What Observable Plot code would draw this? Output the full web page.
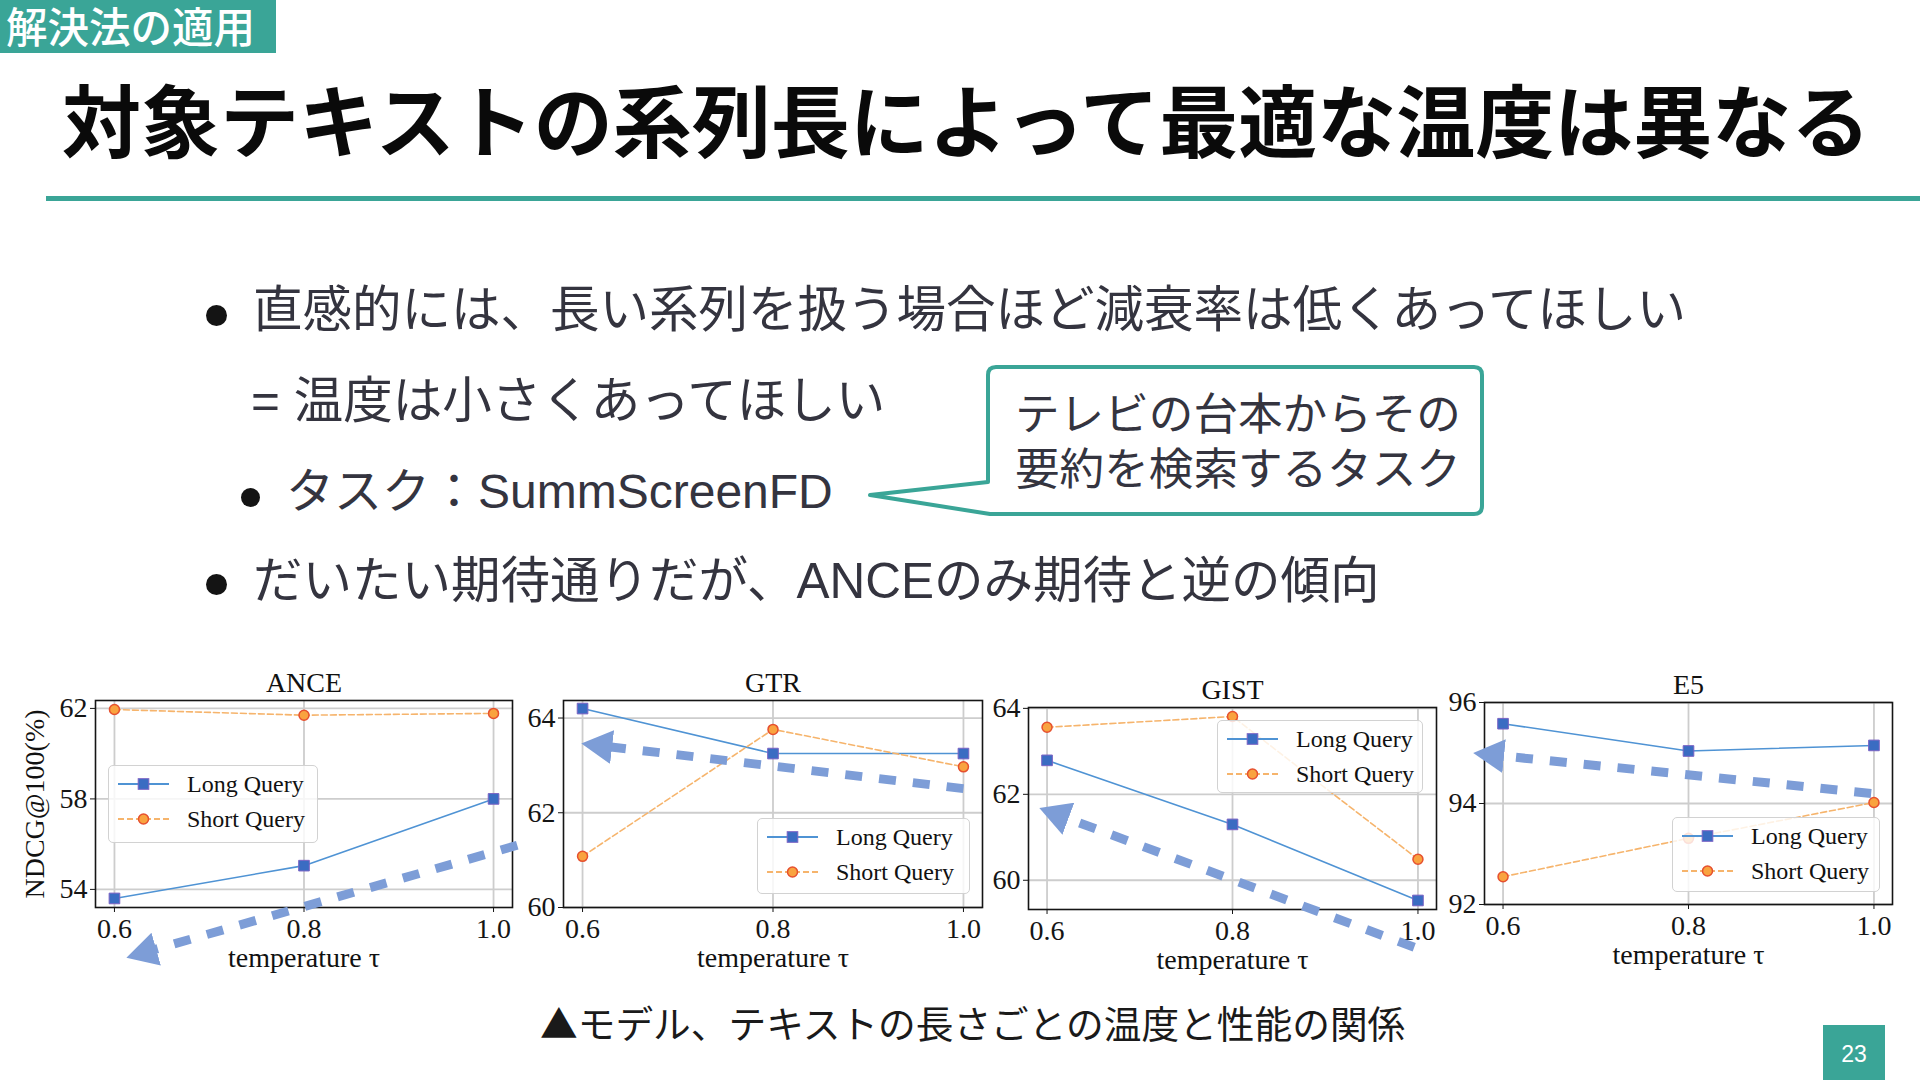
<!DOCTYPE html>
<html>
<head>
<meta charset="utf-8">
<script src="https://cdn.jsdelivr.net/npm/d3@7"></script>
<script src="https://cdn.jsdelivr.net/npm/@observablehq/plot@0.6"></script>
<style>
html,body{margin:0;padding:0;background:#fff;}
#slide{position:relative;width:1920px;height:1080px;overflow:hidden;background:#fff;font-family:"Noto Sans CJK JP",sans-serif;}
.t{position:absolute;white-space:nowrap;line-height:1;}
.body{font-family:"Liberation Sans","Noto Sans CJK JP",sans-serif;color:#34343f;font-size:49.5px;}
.dot{position:absolute;border-radius:50%;background:#141414;}
.leg{position:absolute;background:rgba(255,255,255,0.82);border:1.5px solid #d2d2d2;border-radius:5px;box-sizing:border-box;font-family:"Liberation Serif",serif;font-size:24px;color:#111;}
.leg svg{position:absolute;}
.leg span{position:absolute;white-space:nowrap;line-height:1;}
.panel{position:absolute;}
</style>
</head>
<body>
<div id="slide">
  <div style="position:absolute;left:0;top:0;width:276px;height:53px;background:#3aa597;"></div>
  <div class="t" style="left:6px;top:5px;font-size:41.5px;color:#fff;font-weight:500;">解決法の適用</div>
  <div class="t" style="left:62px;top:78px;font-size:79px;font-weight:700;color:#0a0a0a;">対象テキストの系列長によって最適な温度は異なる</div>
  <div style="position:absolute;left:46px;top:196px;width:1874px;height:5px;background:#3aa597;"></div>

  <div class="dot" style="left:206px;top:305px;width:21px;height:21px;"></div>
  <div class="t body" style="left:253px;top:285px;">直感的には、長い系列を扱う場合ほど減衰率は低くあってほしい</div>
  <div class="t body" style="left:251px;top:376px;">= 温度は小さくあってほしい</div>
  <div class="dot" style="left:241px;top:488px;width:19px;height:19px;"></div>
  <div class="t body" style="left:286px;top:468px;font-size:48px;">タスク：SummScreenFD</div>
  <div class="dot" style="left:206px;top:574px;width:21px;height:21px;"></div>
  <div class="t body" style="left:253px;top:556px;">だいたい期待通りだが、ANCEのみ期待と逆の傾向</div>

  <svg style="position:absolute;left:0;top:0;" width="1920" height="1080">
    <path d="M996,367 H1474 Q1482,367 1482,375 V506 Q1482,514 1474,514 H990 L870,495 L988,482 V375 Q988,367 996,367 Z" fill="#fff" stroke="#3aa597" stroke-width="4" stroke-linejoin="round"/>
  </svg>
  <div class="t body" style="left:1015px;top:393px;font-size:44.6px;">テレビの台本からその</div>
  <div class="t body" style="left:1015px;top:448px;font-size:44.6px;">要約を検索するタスク</div>

  <div class="t" style="left:540px;top:1003px;font-size:37.7px;color:#1a1a1a;">▲モデル、テキストの長さごとの温度と性能の関係</div>
  <div style="position:absolute;left:1823px;top:1025px;width:62px;height:55px;background:#3aa597;"></div>
  <div class="t" style="left:1823px;top:1043px;width:62px;text-align:center;font-family:'Liberation Sans',sans-serif;font-size:23px;color:#fff;">23</div>
</div>
<script>
// ---- data ----
const temps = [0.6, 0.8, 1.0];
const tempLabels = ["0.6", "0.8", "1.0"];
const seriesNames = ["Long Query", "Short Query"];
const modelNames = ["ANCE", "GTR", "GIST", "E5"];
const xLabel = "temperature τ";
const yLabel = "NDCG@100(%)";

const anceLong  = [53.6, 55.05, 58.0];
const anceShort = [61.95, 61.7, 61.78];
const gtrLong   = [64.2, 63.25, 63.25];
const gtrShort  = [61.08, 63.76, 62.97];
const gistLong  = [62.79, 61.3, 59.53];
const gistShort = [63.56, 63.81, 60.49];
const e5Long    = [95.58, 95.04, 95.15];
const e5Short   = [92.55, 93.31, 94.02];

const anceTicks = [54, 58, 62];
const gtrTicks  = [60, 62, 64];
const gistTicks = [60, 62, 64];
const e5Ticks   = [92, 94, 96];

const anceDomain = [53.2, 62.35];
const gtrDomain  = [60, 64.37];
const gistDomain = [59.32, 64.02];
const e5Domain   = [92, 96];

// trend arrows (annotation), in data units: [x1, y1, x2, y2] (x2,y2 = base of arrow head)
const anceArrow = [1.025, 55.95, 0.643, 51.35];
const gtrArrow  = [1.0, 62.51, 0.630, 63.39];
const gistArrow = [0.996, 58.44, 0.622, 61.44];
const e5Arrow   = [0.997, 94.2, 0.6, 94.94];

// ---- styles / layout ----
const longColor = "#4f93d4", sqFill = "#3a6cc2", sqStroke = "#7a62c4";
const shortColor = "#f6b46c", ciFill = "#f9a33f", ciStroke = "#e6502f";
const arrowColor = "#7d9dd7";
const gridColor = "#cdcdcd";

const panels = [
  {name: modelNames[0], long: anceLong, short: anceShort, ticks: anceTicks, domain: anceDomain, arrow: anceArrow, ylabel: true,
   frame: {L: 95, R: 512, T: 700, B: 907}, mL: 95, legend: [108, 765, 210, 78]},
  {name: modelNames[1], long: gtrLong, short: gtrShort, ticks: gtrTicks, domain: gtrDomain, arrow: gtrArrow,
   frame: {L: 563, R: 982, T: 700, B: 907}, mL: 70, legend: [757, 818, 213, 76]},
  {name: modelNames[2], long: gistLong, short: gistShort, ticks: gistTicks, domain: gistDomain, arrow: gistArrow,
   frame: {L: 1028, R: 1436, T: 707, B: 909}, mL: 70, legend: [1217, 720, 206, 73]},
  {name: modelNames[3], long: e5Long, short: e5Short, ticks: e5Ticks, domain: e5Domain, arrow: e5Arrow,
   frame: {L: 1484, R: 1892, T: 702, B: 904}, mL: 70, legend: [1672, 817, 208, 75]}
];

const slide = document.getElementById("slide");
const SVG_TOP = 645, SVG_BOTTOM = 995;

panels.forEach((p, i) => {
  const rows = temps.map((t, k) => ({t, long: p.long[k], short: p.short[k]}));
  const mR = 25;
  const mT = p.frame.T - SVG_TOP, mB = SVG_BOTTOM - p.frame.B;
  const W = p.mL + (p.frame.R - p.frame.L) + mR;
  const H = SVG_BOTTOM - SVG_TOP;
  const a = p.arrow;
  const marks = [
    Plot.gridX(temps, {stroke: gridColor, strokeOpacity: 1, strokeWidth: 1.8}),
    Plot.gridY(p.ticks, {stroke: gridColor, strokeOpacity: 1, strokeWidth: 1.8}),
    Plot.frame({stroke: "#151515", strokeWidth: 1.6}),
    Plot.axisX(temps, {tickFormat: d => tempLabels[temps.indexOf(d)], tickSize: 5, tickPadding: 6, fontSize: 28, label: null}),
    Plot.axisY(p.ticks, {tickFormat: d => String(d), tickSize: 5, tickPadding: 3, fontSize: 28, label: null}),
    Plot.line(rows, {x: "t", y: "long", stroke: longColor, strokeWidth: 1.6}),
    Plot.line(rows, {x: "t", y: "short", stroke: shortColor, strokeWidth: 1.6, strokeDasharray: "6,3"}),
    Plot.dot(rows, {x: "t", y: "long", symbol: "square", r: 6, fill: sqFill, stroke: sqStroke, strokeWidth: 1}),
    Plot.dot(rows, {x: "t", y: "short", symbol: "circle", r: 5, fill: ciFill, stroke: ciStroke, strokeWidth: 1.5}),
    Plot.text([p.name], {text: d => d, frameAnchor: "top", dy: -17, lineAnchor: "middle", fontSize: 28, fill: "#111"}),
    Plot.text([xLabel], {text: d => d, frameAnchor: "bottom", dy: 51, lineAnchor: "middle", fontSize: 28, fill: "#111"}),
    Plot.link([a], {x1: d => d[0], y1: d => d[1], x2: d => d[2], y2: d => d[3], stroke: arrowColor, strokeWidth: 9, strokeDasharray: "17,17"})
  ];
  if (p.ylabel) marks.push(Plot.text([yLabel], {text: d => d, frameAnchor: "left", dx: -60, rotate: -90, textAnchor: "middle", lineAnchor: "middle", fontSize: 28, fill: "#111"}));
  const svg = Plot.plot({
    width: W, height: H,
    marginLeft: p.mL, marginRight: mR, marginTop: mT, marginBottom: mB,
    style: {background: "transparent", overflow: "visible", fontFamily: "'Liberation Serif', serif", fontSize: "28px", color: "#151515"},
    x: {domain: [0.58, 1.02]},
    y: {domain: p.domain},
    marks
  });
  // filled arrow head
  const ns = "http://www.w3.org/2000/svg";
  const defs = document.createElementNS(ns, "defs");
  defs.innerHTML = `<marker id="ah${i}" viewBox="0 0 31 34" refX="1" refY="17" markerWidth="31" markerHeight="34" markerUnits="userSpaceOnUse" orient="auto" preserveAspectRatio="none"><path d="M0,0L31,17L0,34Z" fill="${arrowColor}"/></marker>`;
  svg.insertBefore(defs, svg.firstChild);
  svg.querySelectorAll('g[aria-label="link"] path, g[aria-label="link"] line').forEach(el => el.setAttribute("marker-end", `url(#ah${i})`));
  svg.classList.add("panel");
  svg.style.position = "absolute";
  svg.style.left = (p.frame.L - p.mL) + "px";
  svg.style.top = SVG_TOP + "px";
  svg.style.maxWidth = "none";
  slide.appendChild(svg);

  // legend
  const [lx, ly, lw, lh] = p.legend;
  const leg = document.createElement("div");
  leg.className = "leg";
  leg.style.left = lx + "px"; leg.style.top = ly + "px";
  leg.style.width = lw + "px"; leg.style.height = lh + "px";
  const rowsY = [19.5, 54.5];
  seriesNames.forEach((name, k) => {
    const s = document.createElementNS("http://www.w3.org/2000/svg", "svg");
    s.setAttribute("width", 54); s.setAttribute("height", 20);
    s.style.left = "8px"; s.style.top = (rowsY[k] - 10 - 1.5) + "px";
    if (k === 0) {
      s.innerHTML = `<line x1="1" y1="10" x2="52" y2="10" stroke="${longColor}" stroke-width="1.8"/><rect x="21.2" y="4.7" width="10.6" height="10.6" fill="${sqFill}" stroke="${sqStroke}" stroke-width="1"/>`;
    } else {
      s.innerHTML = `<line x1="1" y1="10" x2="52" y2="10" stroke="${shortColor}" stroke-width="1.8" stroke-dasharray="6,3"/><circle cx="26.5" cy="10" r="5" fill="${ciFill}" stroke="${ciStroke}" stroke-width="1.5"/>`;
    }
    leg.appendChild(s);
    const sp = document.createElement("span");
    sp.textContent = name;
    sp.style.left = "78px"; sp.style.top = (rowsY[k] - 13.5) + "px";
    leg.appendChild(sp);
  });
  slide.appendChild(leg);
});
</script>
</body>
</html>
